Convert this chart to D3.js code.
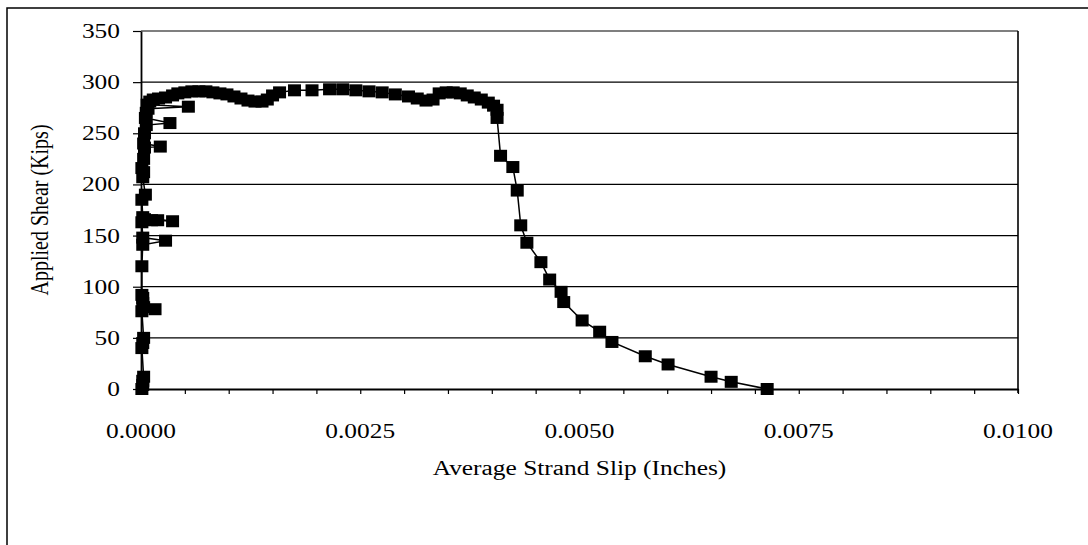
<!DOCTYPE html>
<html><head><meta charset="utf-8">
<script src="https://cdn.jsdelivr.net/npm/d3@7"></script>
<style>body{margin:0;background:#fff}svg{display:block}</style>
</head><body>
<script>
const xTicks = [0, 0.0025, 0.005, 0.0075, 0.01];
const yTicks = [0, 50, 100, 150, 200, 250, 300, 350];
const xTitle = "Average Strand Slip (Inches)";
const yTitle = "Applied Shear (Kips)";
// Average strand slip (in), in test order
const slip = [
 0.00001,0.00002,0.00002,0.00003,0.00001,0.00002,0.00003,0.00001,0.00003,0.00016,0.00002,0.00002,0.00001,
 0.00001,0.00002,0.00028,0.00002,0.00001,0.00004,0.00012,0.00019,0.00036,0.00002,0.00001,0.00005,0.00002,
 0.00003,0.00001,0.00003,0.00004,0.00022,0.00003,0.00004,0.00006,0.00033,0.00005,0.00006,0.00008,0.00054,
 0.00007,0.00010,0.00014,0.00020,0.00028,0.00036,0.00042,0.00050,0.00058,0.00066,0.00074,0.00082,0.00090,
 0.00098,0.00106,0.00114,0.00122,0.00130,0.00138,0.00144,0.00150,0.00158,0.00175,0.00195,0.00215,0.00230,
 0.00245,0.00260,0.00275,0.00290,0.00305,0.00315,0.00325,0.00333,0.00340,0.00348,0.00356,0.00364,0.00372,
 0.00380,0.00388,0.00396,0.00402,0.00406,0.00406,0.00410,0.00424,0.00429,0.00433,0.00440,0.00456,0.00466,
 0.00479,0.00482,0.00503,0.00523,0.00537,0.00575,0.00601,0.00650,0.00673,0.00714
];
// Applied shear (kips)
const shear = [
 0,4,8,12,40,45,50,76,80,78,84,89,92,
 120,141,145,148,163,166,165,165,164,168,185,190,207,
 212,216,225,236,237,240,250,258,260,265,270,274,276,
 278,281,283,284,285,287,289,290,291,291,291,290,289,
 288,286,284,282,281,281,283,287,290,292,292,293,293,
 292,291,290,288,286,284,282,283,289,290,290,289,287,
 285,283,280,277,273,265,228,217,194,160,143,124,107,
 95,85,67,56,46,32,24,12,7,0
];

const W = 1088, H = 545;
const m = {left:141, right:1018, top:31, bottom:389};
const FONT = "'Liberation Serif','Times New Roman',serif";
const SX = 1.27; // horizontal stretch of the scanned type
const svg = d3.select("body").append("svg").attr("width", W).attr("height", H)
  .style("font-family", FONT);

// scanned page border
svg.append("path").attr("d", `M7,${H} L7,8 L${W},8`).attr("fill","none").attr("stroke","#000").attr("stroke-width",1.5);

const x = d3.scaleLinear().domain([0, 0.01]).range([m.left, m.right]);
const y = d3.scaleLinear().domain([0, 350]).range([m.bottom, m.top]);

// gridlines
svg.append("g").selectAll("line").data(yTicks.filter(d => d > 0)).join("line")
  .attr("x1", m.left).attr("x2", m.right).attr("y1", d => y(d)).attr("y2", d => y(d))
  .attr("stroke", "#000").attr("stroke-width", 1.2);
// right border
svg.append("line").attr("x1", m.right).attr("x2", m.right).attr("y1", m.top).attr("y2", m.bottom + 4)
  .attr("stroke", "#000").attr("stroke-width", 1.6);

// x axis (minor ticks every 0.0005)
const minor = d3.range(0, 0.01 + 1e-9, 0.0005);
const xAxis = svg.append("g").attr("transform", `translate(0,${m.bottom})`)
  .call(d3.axisBottom(x).tickValues(minor).tickSize(5).tickSizeOuter(0).tickFormat(""));
xAxis.select(".domain").attr("stroke-width", 1.8);
xAxis.selectAll("line").attr("stroke-width", 1.2);
svg.append("g").selectAll("text").data(xTicks).join("text")
  .attr("transform", d => `translate(${x(d)},438) scale(${SX},1)`)
  .attr("text-anchor", "middle").attr("font-size", 20).attr("font-family", FONT)
  .text(d => d3.format(".4f")(d));

// y axis
const yAxis = svg.append("g").attr("transform", `translate(${m.left},0)`)
  .call(d3.axisLeft(y).tickValues(yTicks).tickSize(8).tickSizeOuter(0).tickFormat(""));
yAxis.select(".domain").attr("stroke-width", 1.8);
yAxis.selectAll("line").attr("stroke-width", 1.2);
svg.append("g").selectAll("text").data(yTicks).join("text")
  .attr("transform", d => `translate(120,${y(d) + 7}) scale(${SX},1)`)
  .attr("text-anchor", "end").attr("font-size", 20).attr("font-family", FONT)
  .text(d3.format("d"));

// titles
svg.append("text").attr("transform", `translate(${(m.left + m.right) / 2},475) scale(${SX},1)`)
  .attr("text-anchor", "middle").attr("font-size", 20).text(xTitle);
svg.append("text").attr("transform", `translate(48,${(m.top + m.bottom) / 2}) scale(${SX},1) rotate(-90)`)
  .attr("text-anchor", "middle").attr("font-size", 20).text(yTitle);

// series
const pts = slip.map((s, i) => [s, shear[i]]);
svg.append("path").datum(pts)
  .attr("d", d3.line().x(d => x(d[0])).y(d => y(d[1])))
  .attr("fill", "none").attr("stroke", "#000").attr("stroke-width", 1.5);
svg.append("g").selectAll("rect").data(pts).join("rect")
  .attr("x", d => x(d[0]) - 6.5).attr("y", d => y(d[1]) - 6)
  .attr("width", 13).attr("height", 12).attr("fill", "#000");
</script>
</body></html>
